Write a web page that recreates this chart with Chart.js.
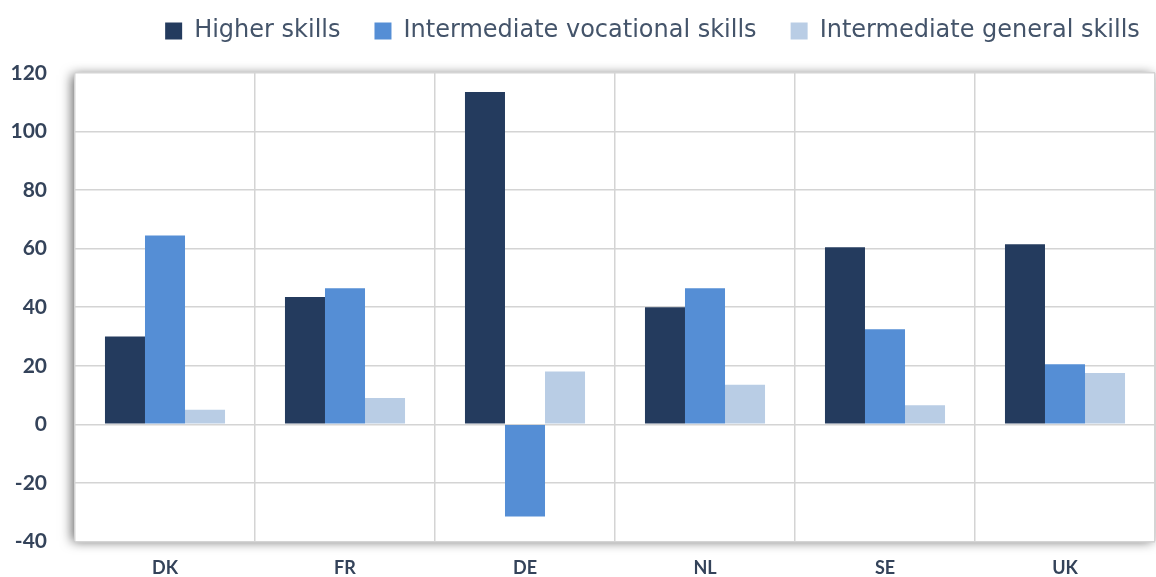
<!DOCTYPE html>
<html>
<head>
<meta charset="utf-8">
<script src="https://cdn.jsdelivr.net/npm/chart.js@4/dist/chart.umd.min.js"></script>
<style>
  html, body { margin: 0; padding: 0; background: #fff; overflow: hidden; }
  canvas { display: block; }
</style>
</head>
<body>
<!-- a few px taller than the window so the plot bottom lands where the original has it -->
<canvas id="chart" width="1156" height="582"></canvas>
<script>
const countries = ['DK', 'FR', 'DE', 'NL', 'SE', 'UK'];
const higherSkills = [30, 43.5, 113.5, 40, 60.5, 61.5];
const vocationalSkills = [64.5, 46.5, -31.5, 46.5, 32.5, 20.5];
const generalSkills = [5, 9, 18, 13.5, 6.5, 17.5];

// white plot area with a soft grey shadow round it,
// plus a bit more room under the legend and a nudge to the right for it
const plotShadow = {
  id: 'plotShadow',
  beforeInit(chart) {
    const legend = chart.legend;
    const fit = legend.fit;
    legend.fit = function () {
      fit.apply(this, arguments);
      this.height += 20;
    };
    const draw = legend.draw;
    legend.draw = function () {
      chart.ctx.save();
      chart.ctx.translate(75, 0);
      draw.apply(this, arguments);
      chart.ctx.restore();
    };
  },
  beforeDraw(chart) {
    const a = chart.chartArea;
    const ctx = chart.ctx;
    ctx.save();
    ctx.shadowColor = 'rgba(0,0,0,0.6)';
    ctx.shadowBlur = 11;
    ctx.shadowOffsetX = -3;
    ctx.shadowOffsetY = 1;
    ctx.fillStyle = '#fff';
    ctx.fillRect(a.left, a.top, a.right - a.left, a.bottom - a.top);
    ctx.restore();
  }
};

new Chart(document.getElementById('chart'), {
  type: 'bar',
  data: {
    labels: countries,
    datasets: [
      { label: 'Higher skills', data: higherSkills, backgroundColor: '#243b5e' },
      { label: 'Intermediate vocational skills', data: vocationalSkills, backgroundColor: '#558ed5' },
      { label: 'Intermediate general skills', data: generalSkills, backgroundColor: '#b9cde5' }
    ]
  },
  options: {
    responsive: false,
    animation: false,
    layout: { padding: { left: 0, right: 1, top: -15, bottom: 0 } },
    datasets: { bar: { categoryPercentage: 0.667, barPercentage: 1.0 } },
    plugins: {
      legend: {
        position: 'top',
        labels: {
          boxWidth: 17,
          boxHeight: 17,
          padding: 34,
          color: '#44546a',
          font: { family: 'DejaVu Sans', size: 24 }
        }
      },
      tooltip: { enabled: false }
    },
    scales: {
      x: {
        grid: { color: '#d4d4d4', lineWidth: 1.5, drawTicks: false, offset: true },
        border: { display: false },
        ticks: { color: '#34435a', font: { family: 'Lato', size: 18, weight: 'bold' }, padding: 16 },
        afterFit(scale) { scale.height = 36; }
      },
      y: {
        min: -40,
        max: 120,
        grid: { color: '#d4d4d4', lineWidth: 1.5, drawTicks: false },
        border: { display: false },
        ticks: { stepSize: 20, color: '#34435a', font: { family: 'Lato', size: 21, weight: 'bold' }, padding: 28 },
        afterFit(scale) { scale.width = 75; }
      }
    }
  },
  plugins: [plotShadow]
});
</script>
</body>
</html>
